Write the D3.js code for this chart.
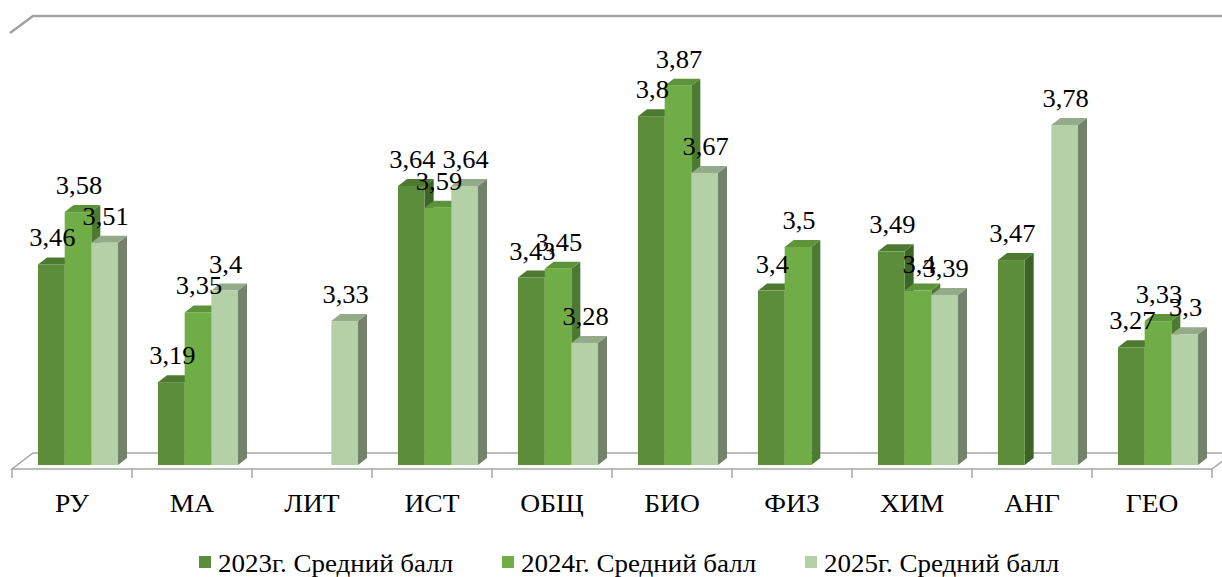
<!DOCTYPE html>
<html>
<head>
<meta charset="utf-8">
<script src="https://cdn.jsdelivr.net/npm/d3@7"></script>
<style>
  body { margin: 0; background: #fff; }
  text { font-family: "Liberation Serif", "Times New Roman", serif; fill: #000; }
</style>
</head>
<body>
<div id="chart"></div>
<script>
const categories = ["РУ", "МА", "ЛИТ", "ИСТ", "ОБЩ", "БИО", "ФИЗ", "ХИМ", "АНГ", "ГЕО"];
const seriesNames = ["2023г. Средний балл", "2024г. Средний балл", "2025г. Средний балл"];
const values2023 = [3.46, 3.19, null, 3.64, 3.43, 3.8, 3.4, 3.49, 3.47, 3.27];
const values2024 = [3.58, 3.35, null, 3.59, 3.45, 3.87, 3.5, 3.4, null, 3.33];
const values2025 = [3.51, 3.4, 3.33, 3.64, 3.28, 3.67, null, 3.39, 3.78, 3.3];
const yDomain = [3, 4];

const width = 1222, height = 577;
const seriesValues = [values2023, values2024, values2025];

// front / top / side shades per series
const colors = [
  { front: "#5b8d3b", top: "#4d7a30", side: "#3d6427" },
  { front: "#70ad47", top: "#5d943a", side: "#4b7a30" },
  { front: "#b5cfa7", top: "#93ab88", side: "#73826a" }
];

const dx = 9, dy = 7;   // bar depth

const svg = d3.select("#chart").append("svg")
  .attr("width", width)
  .attr("height", height);

const x = d3.scaleBand().domain(categories).range([12, 1212]);
const x1 = d3.scaleBand().domain(seriesNames).range([26, 106]);
const y = d3.scaleLinear().domain(yDomain).range([465, 29]);

// walls (only top edges are visible)
svg.append("path")
  .attr("d", "M10,33 L33,16 L1240,16")
  .attr("fill", "none")
  .attr("stroke", "#a3a3a3")
  .attr("stroke-width", 2.5);

// floor
const floorFront = 469, floorBack = 453;
svg.append("path")
  .attr("d", `M12,${floorFront} L1212,${floorFront} L1233,${floorBack} L33,${floorBack} Z`)
  .attr("fill", "#fff")
  .attr("stroke", "#a6a6a6")
  .attr("stroke-width", 1.5);

// category ticks
svg.selectAll("line.tick")
  .data(d3.range(categories.length + 1))
  .enter()
  .append("line")
  .attr("x1", i => x.range()[0] + i * x.step())
  .attr("x2", i => x.range()[0] + i * x.step())
  .attr("y1", floorFront)
  .attr("y2", floorFront + 9)
  .attr("stroke", "#a6a6a6")
  .attr("stroke-width", 1.5);

// bars, left to right so front faces hide the previous side faces
const bars = [];
categories.forEach((c, ci) => {
  seriesNames.forEach((s, si) => {
    const v = seriesValues[si][ci];
    if (v == null) return;
    bars.push({ c, s, si, v });
  });
});

const barG = svg.append("g");
bars.forEach(b => {
  const x0 = x(b.c) + x1(b.s);
  const w = x1.bandwidth();
  const yt = y(b.v), yb = y(yDomain[0]);
  const col = colors[b.si];
  const g = barG.append("g");
  g.append("path")
    .attr("d", `M${x0 + w},${yt} L${x0 + w + dx},${yt - dy} L${x0 + w + dx},${yb - dy} L${x0 + w},${yb} Z`)
    .attr("fill", col.side);
  g.append("path")
    .attr("d", `M${x0},${yt} L${x0 + dx},${yt - dy} L${x0 + w + dx},${yt - dy} L${x0 + w},${yt} Z`)
    .attr("fill", col.top);
  g.append("rect")
    .attr("x", x0)
    .attr("y", yt)
    .attr("width", w)
    .attr("height", yb - yt)
    .attr("fill", col.front);
});

// text in the picture is a little stretched horizontally
function stretchedText(parent, tx, ty, str, size, sx, anchor) {
  parent.append("g")
    .attr("transform", `translate(${tx},${ty}) scale(${sx},1)`)
    .append("text")
    .attr("text-anchor", anchor)
    .attr("font-size", size)
    .text(str);
}

// data labels
const labelG = svg.append("g");
bars.forEach(b => {
  const cx = x(b.c) + x1(b.s) + x1.bandwidth() / 2 + 1;
  stretchedText(labelG, cx, y(b.v) - 18, String(b.v).replace(".", ","), 25, 1.06, "middle");
});

// category labels
categories.forEach(c => {
  stretchedText(svg, x(c) + x.bandwidth() / 2, 512, c, 25, 1.1, "middle");
});

// legend
const legendX = [199, 502, 805];
seriesNames.forEach((s, i) => {
  svg.append("rect")
    .attr("x", legendX[i])
    .attr("y", 556)
    .attr("width", 12)
    .attr("height", 12)
    .attr("fill", colors[i].front);
  stretchedText(svg, legendX[i] + 19, 572, s, 25, 1.08, "start");
});
</script>
</body>
</html>
